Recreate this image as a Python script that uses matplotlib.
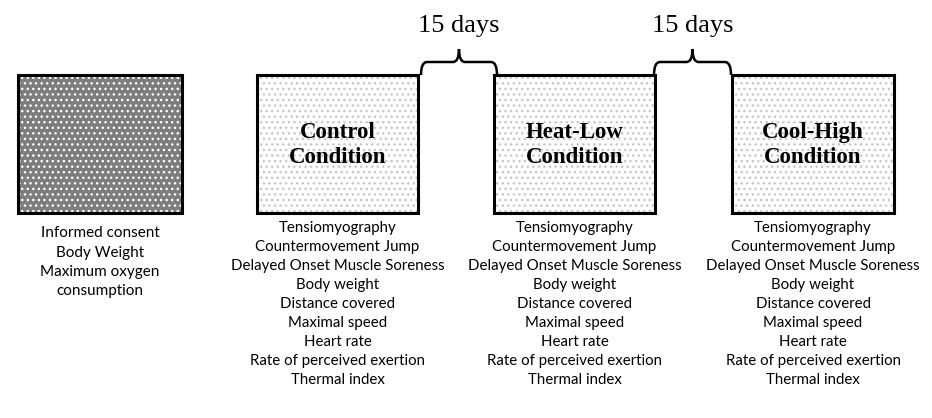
import matplotlib.pyplot as plt
from matplotlib.patches import Rectangle, PathPatch
from matplotlib.path import Path

# study design data
conditions = ["Control\nCondition", "Heat-Low\nCondition", "Cool-High\nCondition"]
measures = ["Tensiomyography", "Countermovement Jump", "Delayed Onset Muscle Soreness",
            "Body weight", "Distance covered", "Maximal speed", "Heart rate",
            "Rate of perceived exertion", "Thermal index"]
baseline = ["Informed consent", "Body Weight", "Maximum oxygen", "consumption"]
gap_label = "15 days"

fig = plt.figure(figsize=(9.32, 4.18), dpi=100)
ax = fig.add_axes([0, 0, 1, 1])
ax.set_xlim(0, 932)
ax.set_ylim(418, 0)
ax.axis('off')

top, bottom = 75, 213
sans = ['Lato', 'DejaVu Sans']
serif = ['Liberation Serif', 'DejaVu Serif']


def box(x0, x1, face, dots):
    ax.add_patch(Rectangle((x0, top), x1 - x0, bottom - top, facecolor=face,
                           edgecolor=dots, hatch='...', lw=0))
    ax.add_patch(Rectangle((x0, top), x1 - x0, bottom - top, fill=False,
                           edgecolor='black', lw=2.2))


def brace(x0, x1):
    xm = (x0 + x1) / 2
    y0, y1, y2 = 75, 62, 49
    verts = [(x0, y0), (x0, y1), (x0 + 6, y1), (xm - 6, y1), (xm, y1), (xm, y2),
             (xm, y1), (xm + 6, y1), (x1 - 6, y1), (x1, y1), (x1, y0)]
    codes = [Path.MOVETO, Path.CURVE3, Path.CURVE3, Path.LINETO, Path.CURVE3, Path.CURVE3,
             Path.CURVE3, Path.CURVE3, Path.LINETO, Path.CURVE3, Path.CURVE3]
    ax.add_patch(PathPatch(Path(verts, codes), fill=False, lw=1.8, edgecolor='black'))
    ax.text(xm, 26, gap_label, ha='center', va='center', fontsize=19, family=serif)


# baseline box
box(18, 182, '#7d7d7d', 'white')
for i, t in enumerate(baseline):
    ax.text(100, 233 + i * 19.5, t, ha='center', va='center', fontsize=11, family=sans)

xs = [(257, 418), (494, 655), (732, 894)]
for (x0, x1), lab in zip(xs, conditions):
    box(x0, x1, 'white', '#c6c6c6')
    ax.text((x0 + x1) / 2, 145, lab, ha='center', va='center', fontsize=16.5,
            fontweight='bold', family=serif, linespacing=1.3)
    for i, t in enumerate(measures):
        ax.text((x0 + x1) / 2, 228 + i * 19, t, ha='center', va='center',
                fontsize=10.8, family=sans)

brace(421, 497)
brace(654, 731)

fig.savefig('out.png', dpi=100)
